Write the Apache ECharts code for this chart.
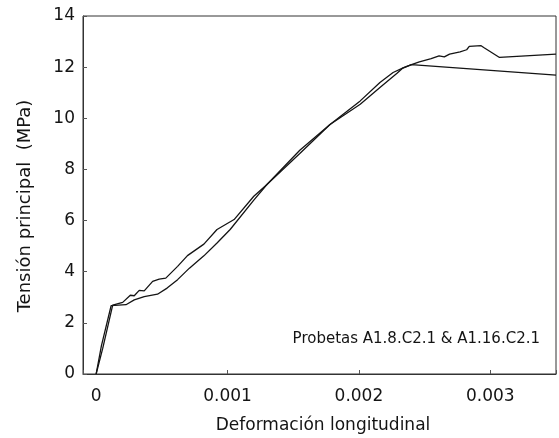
<!DOCTYPE html>
<html>
<head>
<meta charset="utf-8">
<script src="https://cdn.jsdelivr.net/npm/echarts@6/dist/echarts.min.js"></script>
<style>
  html, body { margin: 0; padding: 0; background: #fff; }
  #chart { width: 559px; height: 438px; }
</style>
</head>
<body>
<div id="chart"></div>
<script>
// probeta A (wavy one, with the peak at the end)
const strainA = [0, 0.00005, 0.000126, 0.000202, 0.00026, 0.00029, 0.000328, 0.000366, 0.00043, 0.00048,
    0.00053, 0.00062, 0.000695, 0.00082, 0.00092, 0.00105, 0.0012, 0.0013, 0.00155, 0.00178,
    0.00201, 0.00216, 0.00226, 0.00234, 0.0024, 0.00246, 0.00255, 0.00261, 0.00265, 0.00269,
    0.00277, 0.00282, 0.00284, 0.00293, 0.00295, 0.00307, 0.0035];
const stressA = [0, 1.0, 2.69, 2.80, 3.08, 3.06, 3.27, 3.25, 3.62, 3.71,
    3.75, 4.21, 4.63, 5.08, 5.65, 6.04, 6.95, 7.41, 8.75, 9.76,
    10.68, 11.40, 11.79, 11.98, 12.10, 12.21, 12.33, 12.44, 12.40, 12.51,
    12.60, 12.68, 12.81, 12.84, 12.77, 12.38, 12.51];

// probeta B (smoother one, falling after the knot)
const strainB = [0, 0.00004, 0.000114, 0.000227, 0.00029, 0.000366, 0.000467, 0.00054, 0.00062, 0.00071,
    0.00082, 0.00092, 0.00102, 0.0012, 0.0013, 0.00155, 0.00178, 0.00201, 0.00216, 0.00229,
    0.00233, 0.0024, 0.0035];
const stressB = [0, 1.1, 2.67, 2.71, 2.90, 3.03, 3.12, 3.36, 3.69, 4.14,
    4.62, 5.12, 5.65, 6.80, 7.41, 8.62, 9.76, 10.55, 11.20, 11.76,
    11.95, 12.10, 11.69];

const xTicks = [0, 0.001, 0.002, 0.003];
const yTicks = [0, 2, 4, 6, 8, 10, 12, 14];

const xTitle = 'Deformación longitudinal';
const yTitle = 'Tensión principal  (MPa)';
const note = 'Probetas A1.8.C2.1 & A1.16.C2.1';

function pairs(xs, ys) {
    let out = [];
    for (let i = 0; i < xs.length; i++) out.push([xs[i], ys[i]]);
    return out;
}

let chartElement = document.getElementById('chart');
let chart = echarts.init(chartElement);

const font = '"DejaVu Sans", Verdana, sans-serif';
const ink = '#141414';

let option = {
    animation: false,
    grid: {
        left: 83, right: 2, top: 16, bottom: 64,
        show: true, borderColor: '#333', borderWidth: 1
    },
    xAxis: {
        type: 'value',
        min: -0.0001,
        max: 0.0035,
        splitNumber: 4,
        splitLine: { show: false },
        axisLine: { onZero: false, lineStyle: { color: '#333', width: 1 } },
        axisTick: { inside: true, length: 4, lineStyle: { color: '#555' } },
        axisLabel: {
            color: ink, fontFamily: font, fontSize: 17, margin: 14,
            showMinLabel: true, showMaxLabel: true,
            formatter: function (v) {
                for (let t of xTicks) {
                    if (Math.abs(v - t) < 1e-9) return String(t);
                }
                return '';
            }
        }
    },
    yAxis: {
        type: 'value',
        min: 0,
        max: 14,
        interval: 2,
        splitLine: { show: false },
        axisLine: { show: true, onZero: false, lineStyle: { color: '#333', width: 1 } },
        axisTick: { show: true, inside: true, length: 4, lineStyle: { color: '#555' } },
        axisLabel: {
            color: ink, fontFamily: font, fontSize: 17, margin: 8,
            formatter: function (v) { return yTicks.includes(v) ? String(v) : ''; }
        }
    },
    graphic: [
        {
            type: 'text', x: 323, y: 426,
            style: { text: xTitle, font: '17px ' + font, fill: ink, align: 'center', verticalAlign: 'middle' }
        },
        {
            type: 'text', x: 25, y: 206, rotation: Math.PI / 2,
            style: { text: yTitle, font: '18px ' + font, fill: ink, align: 'center', verticalAlign: 'middle' }
        },
        {
            type: 'text', x: 540, y: 339,
            style: { text: note, font: '15px ' + font, fill: ink, align: 'right', verticalAlign: 'middle' }
        }
    ],
    series: [
        {
            name: 'A1.8.C2.1',
            type: 'line',
            symbol: 'none',
            lineStyle: { color: ink, width: 1.3 },
            data: pairs(strainA, stressA)
        },
        {
            name: 'A1.16.C2.1',
            type: 'line',
            symbol: 'none',
            lineStyle: { color: ink, width: 1.3 },
            data: pairs(strainB, stressB)
        }
    ]
};

chart.setOption(option);
</script>
</body>
</html>
